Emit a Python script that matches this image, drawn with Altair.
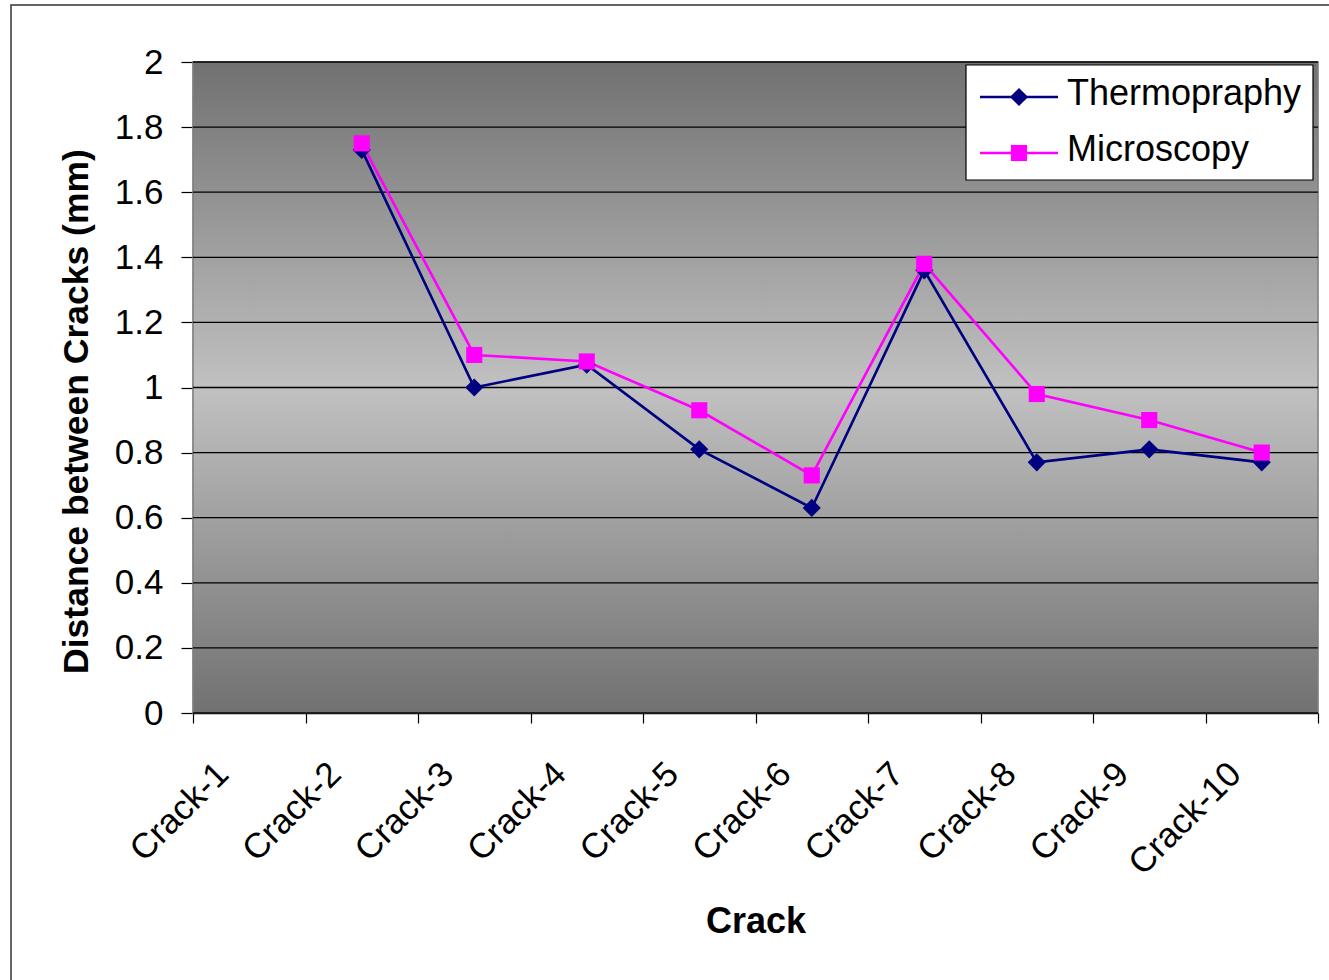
import altair as alt
import pandas as pd

# ---------------- data ----------------
categories = ["Crack-1", "Crack-2", "Crack-3", "Crack-4", "Crack-5",
              "Crack-6", "Crack-7", "Crack-8", "Crack-9", "Crack-10"]
thermography = [None, 1.73, 1.00, 1.07, 0.81, 0.63, 1.36, 0.77, 0.81, 0.77]
microscopy = [None, 1.75, 1.10, 1.08, 0.93, 0.73, 1.38, 0.98, 0.90, 0.80]
series_names = ["Thermopraphy", "Microscopy"]
series_colors = ["#000080", "#FF00FF"]
series_shapes = ["diamond", "square"]
series_sizes = [330, 260]
y_ticks = [0, 0.2, 0.4, 0.6, 0.8, 1, 1.2, 1.4, 1.6, 1.8, 2]

rows = []
for name, vals in zip(series_names, [thermography, microscopy]):
    for c, v in zip(categories, vals):
        if v is not None:
            rows.append({"crack": c, "value": v, "series": name})
df = pd.DataFrame(rows)

W, H = 1125, 651
FONT = "Liberation Sans"

x_enc = alt.X(
    "crack:N",
    scale=alt.Scale(domain=categories, type="band", paddingInner=0, paddingOuter=0),
    bandPosition=0.5,
    axis=alt.Axis(
        title="Crack", titleFont=FONT, titleFontSize=36, titleFontWeight="bold",
        titleColor="#000", titleX=W / 2, titleY=219, titleBaseline="alphabetic",
        titleAlign="center",
        labelAngle=-45, labelAlign="right", labelBaseline="middle",
        labelFont=FONT, labelFontSize=35, labelColor="#000",
        labelOffset=-27, labelPadding=45,
        tickBand="extent", tickSize=10, tickColor="#000", tickWidth=1.2,
        domainColor="#000", domainWidth=1.5, grid=False,
    ),
)
y_scale = alt.Scale(domain=[0, 2], nice=False, zero=True)
y_axis = alt.Axis(
    title="Distance between Cracks (mm)", titleFont=FONT, titleFontSize=35.5,
    titleFontWeight="bold", titleColor="#000", titleAngle=-90,
    titleX=-106, titleY=349, titleBaseline="alphabetic", titleAlign="center",
    values=y_ticks, format="~g", labelFont=FONT, labelFontSize=35,
    labelColor="#000", labelPadding=18, tickSize=12, tickColor="#000",
    tickWidth=1.2, domainColor="#000", domainWidth=1.5, grid=False,
)
y_enc = alt.Y("value:Q", scale=y_scale, axis=y_axis)
color_enc = alt.Color("series:N", scale=alt.Scale(domain=series_names, range=series_colors), legend=None)

one = pd.DataFrame({"a": [0]})

background = alt.Chart(one).mark_rect(
    fill=alt.Gradient(
        gradient="linear", x1=0, x2=0, y1=0, y2=1,
        stops=[alt.GradientStop(color="#717171", offset=0),
               alt.GradientStop(color="#c1c1c1", offset=0.5),
               alt.GradientStop(color="#717171", offset=1)],
    ),
    stroke="#808080", strokeWidth=1.5,
).encode(x=alt.value(0), x2=alt.value(W), y=alt.value(0), y2=alt.value(H))

grid = alt.Chart(pd.DataFrame({"value": y_ticks})).mark_rule(
    color="#000", strokeWidth=1.3
).encode(y=y_enc)

lines = alt.Chart(df).mark_line(strokeWidth=2.6).encode(
    x=x_enc, y=y_enc, color=color_enc, detail="series:N"
)
points = alt.Chart(df).mark_point(filled=True, opacity=1).encode(
    x=x_enc, y=y_enc,
    color=color_enc,
    shape=alt.Shape("series:N", scale=alt.Scale(domain=series_names, range=series_shapes), legend=None),
    size=alt.Size("series:N", scale=alt.Scale(domain=series_names, range=series_sizes), legend=None),
)

# ---------------- legend (drawn manually) ----------------
LX0, LX1, LY0, LY1 = 773, 1120, 3, 118
legend_layers = [
    alt.Chart(one).mark_rect(fill="white", stroke="#000", strokeWidth=1.2).encode(
        x=alt.value(LX0), x2=alt.value(LX1), y=alt.value(LY0), y2=alt.value(LY1))
]
for i, (name, col, shp, sz) in enumerate(zip(series_names, series_colors, series_shapes, series_sizes)):
    yy = 35 + i * 56
    legend_layers.append(alt.Chart(one).mark_rule(color=col, strokeWidth=2.6).encode(
        x=alt.value(787), x2=alt.value(865), y=alt.value(yy)))
    legend_layers.append(alt.Chart(one).mark_point(filled=True, opacity=1, color=col, shape=shp, size=sz).encode(
        x=alt.value(826), y=alt.value(yy)))
    legend_layers.append(alt.Chart(pd.DataFrame({"t": [name]})).mark_text(
        align="left", baseline="middle", font=FONT, fontSize=36, color="#000").encode(
        x=alt.value(874), y=alt.value(yy - 3), text="t:N"))

frame = alt.Chart(one).mark_rect(fill=None, stroke="#333", strokeWidth=1.5).encode(
    x=alt.value(11 - 193), x2=alt.value(1329 - 193 + 20),
    y=alt.value(5 - 62), y2=alt.value(980 - 62 + 20))

chart = alt.layer(background, grid, lines, points, *legend_layers, frame).properties(
    width=W, height=H,
    autosize=alt.AutoSizeParams(type="none"),
    padding={"left": 193, "top": 62, "right": 11, "bottom": 267},
    background="white",
).configure_view(stroke=None).configure(font=FONT)

chart.save("out.html", embed_options={"renderer": "svg", "actions": False})
